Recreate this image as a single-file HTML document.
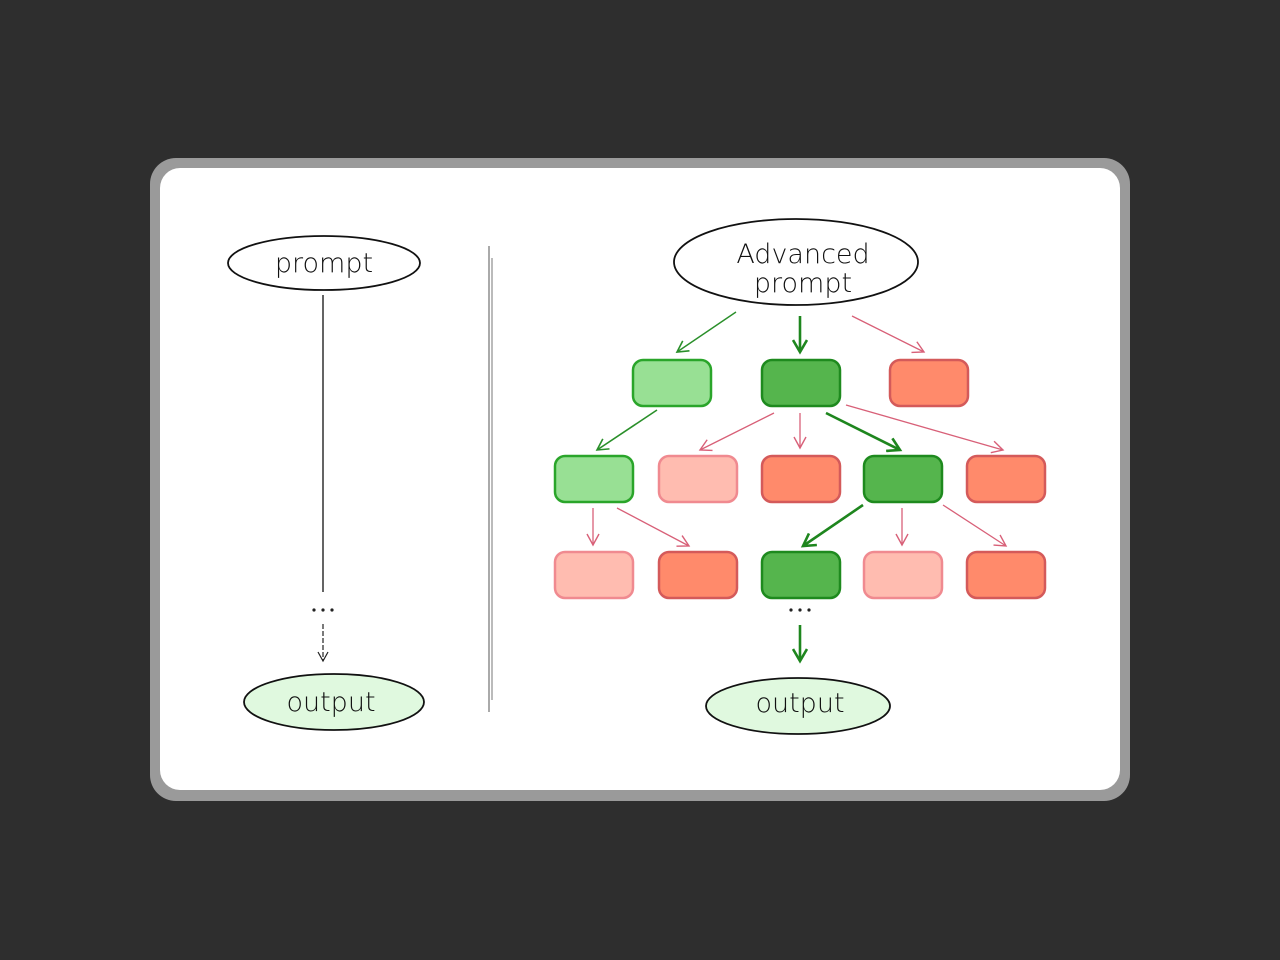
<!DOCTYPE html>
<html><head><meta charset="utf-8"><style>
html,body{margin:0;padding:0;background:#2e2e2e;width:1280px;height:960px;overflow:hidden}
text{font-family:"DejaVu Sans","Liberation Sans",sans-serif;font-weight:300}
</style></head><body>
<svg width="1280" height="960" viewBox="0 0 1280 960" xmlns="http://www.w3.org/2000/svg">
<defs>
<marker id="ab" markerWidth="12" markerHeight="12" refX="10" refY="6" orient="auto" markerUnits="userSpaceOnUse"><path d="M1,1 L10,6 L1,11" fill="none" stroke="#222" stroke-width="1.2"/></marker>
<marker id="ag" markerWidth="14" markerHeight="14" refX="12" refY="7" orient="auto" markerUnits="userSpaceOnUse"><path d="M1,1 L12,7 L1,13" fill="none" stroke="#2a8f2a" stroke-width="1.6"/></marker>
<marker id="agb" markerWidth="16" markerHeight="16" refX="13" refY="8" orient="auto" markerUnits="userSpaceOnUse"><path d="M1,1 L13,8 L1,15" fill="none" stroke="#1e861e" stroke-width="2.6"/></marker>
<marker id="ar" markerWidth="14" markerHeight="14" refX="12" refY="7" orient="auto" markerUnits="userSpaceOnUse"><path d="M1,1 L12,7 L1,13" fill="none" stroke="#d86078" stroke-width="1.4"/></marker>
</defs>
<rect x="150" y="158" width="980" height="643" rx="26" fill="#9a9a9a"/>
<rect x="160" y="168" width="960" height="622" rx="20" fill="#fff"/>

<ellipse cx="324" cy="263" rx="96" ry="27" fill="#fff" stroke="#111" stroke-width="1.8"/>
<text x="324" y="272" font-size="27" text-anchor="middle" fill="#111">prompt</text>
<line x1="323" y1="295" x2="323" y2="592" stroke="#222" stroke-width="1.4"/>
<g fill="#222"><circle cx="314" cy="610" r="1.6"/><circle cx="323" cy="610" r="1.6"/><circle cx="332" cy="610" r="1.6"/>
<circle cx="791" cy="610" r="1.6"/><circle cx="800" cy="610" r="1.6"/><circle cx="809" cy="610" r="1.6"/></g>
<line x1="323" y1="624" x2="323" y2="661" stroke="#222" stroke-width="1.2" stroke-dasharray="5,2" marker-end="url(#ab)"/>
<ellipse cx="334" cy="702" rx="90" ry="28" fill="#e0f9df" stroke="#111" stroke-width="1.8"/>
<text x="331" y="711" font-size="27" text-anchor="middle" fill="#111">output</text>

<line x1="489" y1="246" x2="489" y2="712" stroke="#555" stroke-width="1"/>
<line x1="492" y1="258" x2="492" y2="700" stroke="#777" stroke-width="1"/>

<ellipse cx="796" cy="262" rx="122" ry="43" fill="#fff" stroke="#111" stroke-width="1.8"/>
<text x="803" y="263" font-size="27" text-anchor="middle" fill="#111">Advanced</text>
<text x="803" y="292" font-size="27" text-anchor="middle" fill="#111">prompt</text>

<g fill="none">
<line x1="736" y1="312" x2="677" y2="352" stroke="#2a8f2a" stroke-width="1.4" marker-end="url(#ag)"/>
<line x1="800" y1="316" x2="800" y2="352" stroke="#1e861e" stroke-width="2.6" marker-end="url(#agb)"/>
<line x1="852" y1="316" x2="924" y2="352" stroke="#d86078" stroke-width="1.3" marker-end="url(#ar)"/>
<line x1="657" y1="410" x2="597" y2="450" stroke="#2a8f2a" stroke-width="1.6" marker-end="url(#ag)"/>
<line x1="774" y1="413" x2="700" y2="450" stroke="#d86078" stroke-width="1.3" marker-end="url(#ar)"/>
<line x1="800" y1="413" x2="800" y2="448" stroke="#d86078" stroke-width="1.3" marker-end="url(#ar)"/>
<line x1="826" y1="413" x2="900" y2="450" stroke="#1e861e" stroke-width="2.6" marker-end="url(#agb)"/>
<line x1="846" y1="405" x2="1003" y2="450" stroke="#d86078" stroke-width="1.3" marker-end="url(#ar)"/>
<line x1="593" y1="508" x2="593" y2="545" stroke="#d86078" stroke-width="1.3" marker-end="url(#ar)"/>
<line x1="617" y1="508" x2="689" y2="546" stroke="#d86078" stroke-width="1.3" marker-end="url(#ar)"/>
<line x1="863" y1="505" x2="803" y2="546" stroke="#1e861e" stroke-width="2.6" marker-end="url(#agb)"/>
<line x1="902" y1="508" x2="902" y2="545" stroke="#d86078" stroke-width="1.3" marker-end="url(#ar)"/>
<line x1="943" y1="505" x2="1006" y2="546" stroke="#d86078" stroke-width="1.3" marker-end="url(#ar)"/>
<line x1="800" y1="625" x2="800" y2="661" stroke="#1e861e" stroke-width="2.6" marker-end="url(#agb)"/>
</g>

<g stroke-width="2.5">
<rect x="633" y="360" width="78" height="46" rx="10" fill="#98e094" stroke="#2aa52a"/>
<rect x="762" y="360" width="78" height="46" rx="10" fill="#55b54d" stroke="#1e8a1e"/>
<rect x="890" y="360" width="78" height="46" rx="10" fill="#ff8a6b" stroke="#d45a5a"/>
<rect x="555" y="456" width="78" height="46" rx="10" fill="#98e094" stroke="#2aa52a"/>
<rect x="659" y="456" width="78" height="46" rx="10" fill="#ffbcb0" stroke="#f08a90"/>
<rect x="762" y="456" width="78" height="46" rx="10" fill="#ff8a6b" stroke="#d45a5a"/>
<rect x="864" y="456" width="78" height="46" rx="10" fill="#55b54d" stroke="#1e8a1e"/>
<rect x="967" y="456" width="78" height="46" rx="10" fill="#ff8a6b" stroke="#d45a5a"/>
<rect x="555" y="552" width="78" height="46" rx="10" fill="#ffbcb0" stroke="#f08a90"/>
<rect x="659" y="552" width="78" height="46" rx="10" fill="#ff8a6b" stroke="#d45a5a"/>
<rect x="762" y="552" width="78" height="46" rx="10" fill="#55b54d" stroke="#1e8a1e"/>
<rect x="864" y="552" width="78" height="46" rx="10" fill="#ffbcb0" stroke="#f08a90"/>
<rect x="967" y="552" width="78" height="46" rx="10" fill="#ff8a6b" stroke="#d45a5a"/>
</g>

<ellipse cx="798" cy="706" rx="92" ry="28" fill="#e0f9df" stroke="#111" stroke-width="1.8"/>
<text x="800" y="712" font-size="27" text-anchor="middle" fill="#111">output</text>
</svg>
</body></html>
